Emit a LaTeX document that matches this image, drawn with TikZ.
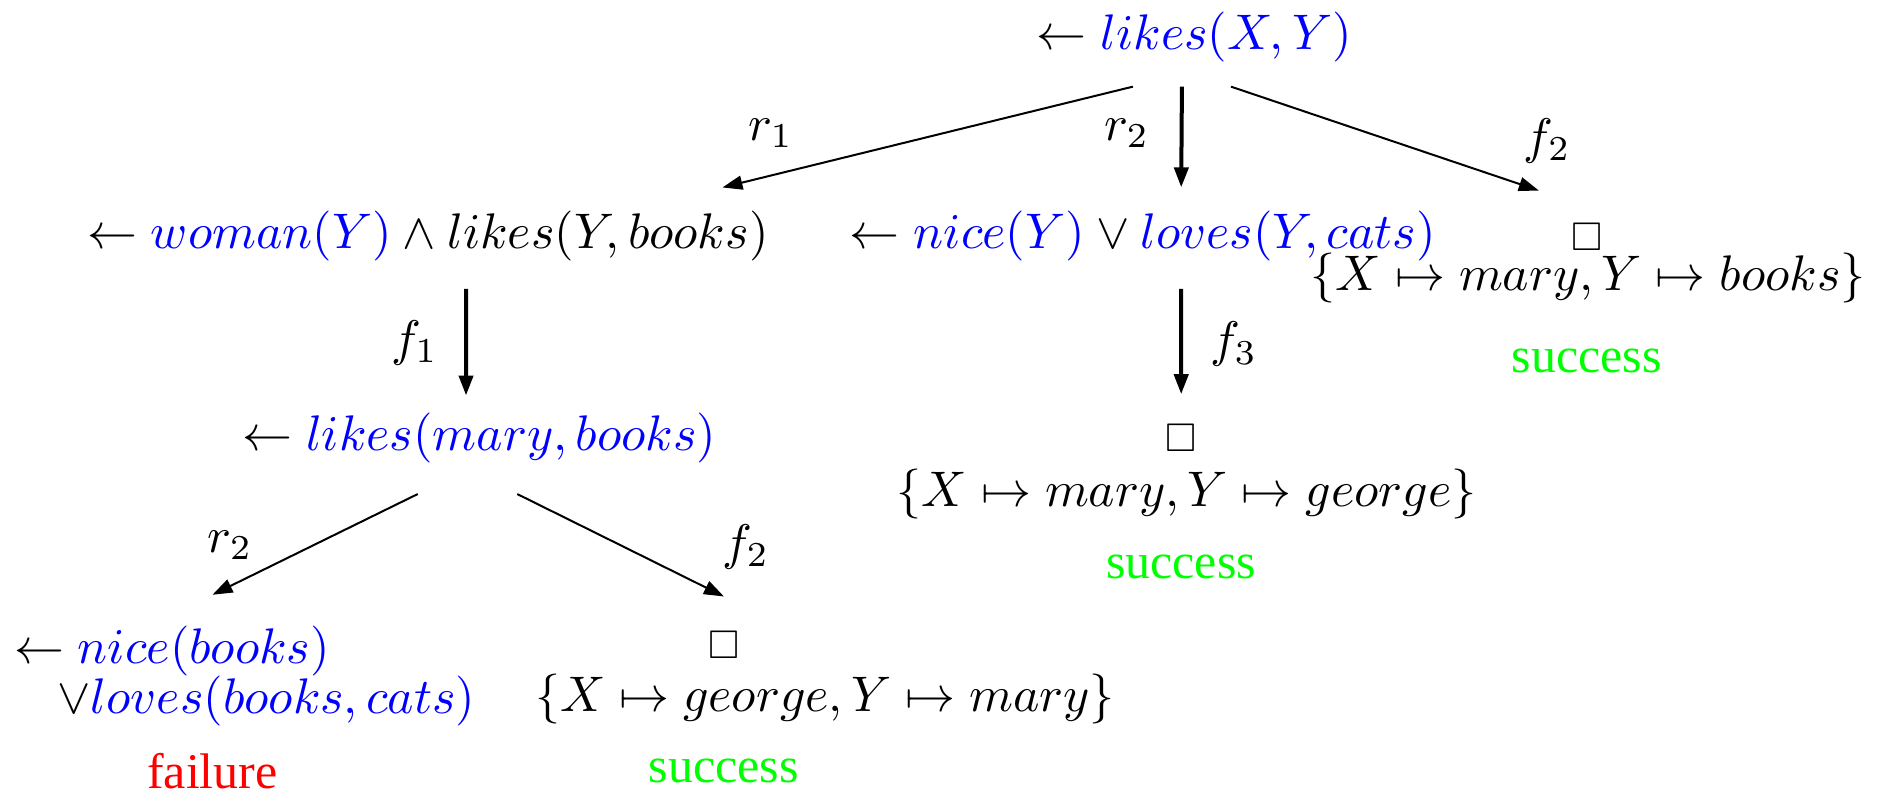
\documentclass[tikz,border=0pt]{standalone}
\usepackage{amsmath, amssymb}
\usepackage[no-math]{fontspec}
\newfontfamily\statusfont{Liberation Serif}
\usepackage{tikz}
\usetikzlibrary{arrows.meta, calc}

\newcommand{\goal}[1]{\textcolor{blue}{#1}}

\begin{document}
\begin{tikzpicture}[scale=1.03,
  arr/.style={-{Triangle[length=4pt, width=2.8pt]}, line width=0.4pt},
  downarr/.style={-{Triangle[length=4pt, width=2.8pt]}, line width=0.8pt},
  emptyclause/.style={font=\footnotesize, inner sep=0pt},
  status/.style={font=\statusfont}]
  \useasboundingbox (0,0) rectangle (12.96,-5.42);

  % Root goal
  \node (root) at (8.15,-0.25) {$\leftarrow \goal{likes(X,Y)}$};

  % Second level
  \node (woman) at (2.92,-1.61) {$\leftarrow \goal{woman(Y)} \wedge likes(Y,books)$};
  \node (niceY) at (7.80,-1.61) {$\leftarrow \goal{nice(Y)} \vee \goal{loves(Y,cats)}$};
  \node[emptyclause] (box1) at (10.83,-1.615) {$\Box$};
  \node (subst1) at (10.84,-1.90) {$\{X \mapsto mary, Y \mapsto books\}$};
  \node[status, green] (success1) at (10.83,-2.46) {success};

  % Third level
  \node (likesmb) at (3.27,-2.99) {$\leftarrow \goal{likes(mary,books)}$};
  \node[emptyclause] (box2) at (8.06,-2.99) {$\Box$};
  \node (subst2) at (8.10,-3.37) {$\{X \mapsto mary, Y \mapsto george\}$};
  \node[status, green] (success2) at (8.06,-3.87) {success};

  % Fourth level
  \node[align=left] (nicebooks) at (1.67,-4.61)
    {$\leftarrow \goal{nice(books)}$\\[-2pt]\hspace{8.7pt}$\vee\goal{loves(books,cats)}$};
  \node[status, red] (failure) at (1.45,-5.26) {failure};
  \node[emptyclause] (box3) at (4.94,-4.40) {$\Box$};
  \node (subst3) at (5.63,-4.77) {$\{X \mapsto george, Y \mapsto mary\}$};
  \node[status, green] (success3) at (4.94,-5.26) {success};

  % Resolution steps
  \draw[arr] ([xshift=-0.42cm, yshift=-0.05cm]root.south) -- ([xshift=2.01cm, yshift=0.04cm]woman.north);
  \draw[downarr] ([xshift=-0.085cm, yshift=-0.05cm]root.south) -- ([xshift=0.26cm, yshift=0.04cm]niceY.north);
  \draw[arr] ([xshift=0.25cm, yshift=-0.05cm]root.south) -- ([shift={(-0.33,0.315)}]box1.center);
  \draw[downarr] ([xshift=0.26cm, yshift=-0.07cm]woman.south) -- ([xshift=-0.09cm]likesmb.north);
  \draw[downarr] ([xshift=0.26cm, yshift=-0.07cm]niceY.south) -- ([yshift=0.30cm]box2.center);
  \draw[arr] ([xshift=-0.42cm, yshift=-0.09cm]likesmb.south) -- ([xshift=-0.22cm, yshift=0.09cm]nicebooks.north);
  \draw[arr] ([xshift=0.26cm, yshift=-0.09cm]likesmb.south) -- ([yshift=0.33cm]box3.center);

  % Step labels
  \node (lr1) at (5.26,-0.91) {$r_1$};
  \node (lr2) at (7.69,-0.91) {$r_2$};
  \node (lf2) at (10.56,-0.96) {$f_2$};
  \node (lf1) at (2.83,-2.34) {$f_1$};
  \node (lf3) at (8.42,-2.35) {$f_3$};
  \node (lr2b) at (1.57,-3.72) {$r_2$};
  \node (lf2b) at (5.09,-3.73) {$f_2$};

\end{tikzpicture}
\end{document}
